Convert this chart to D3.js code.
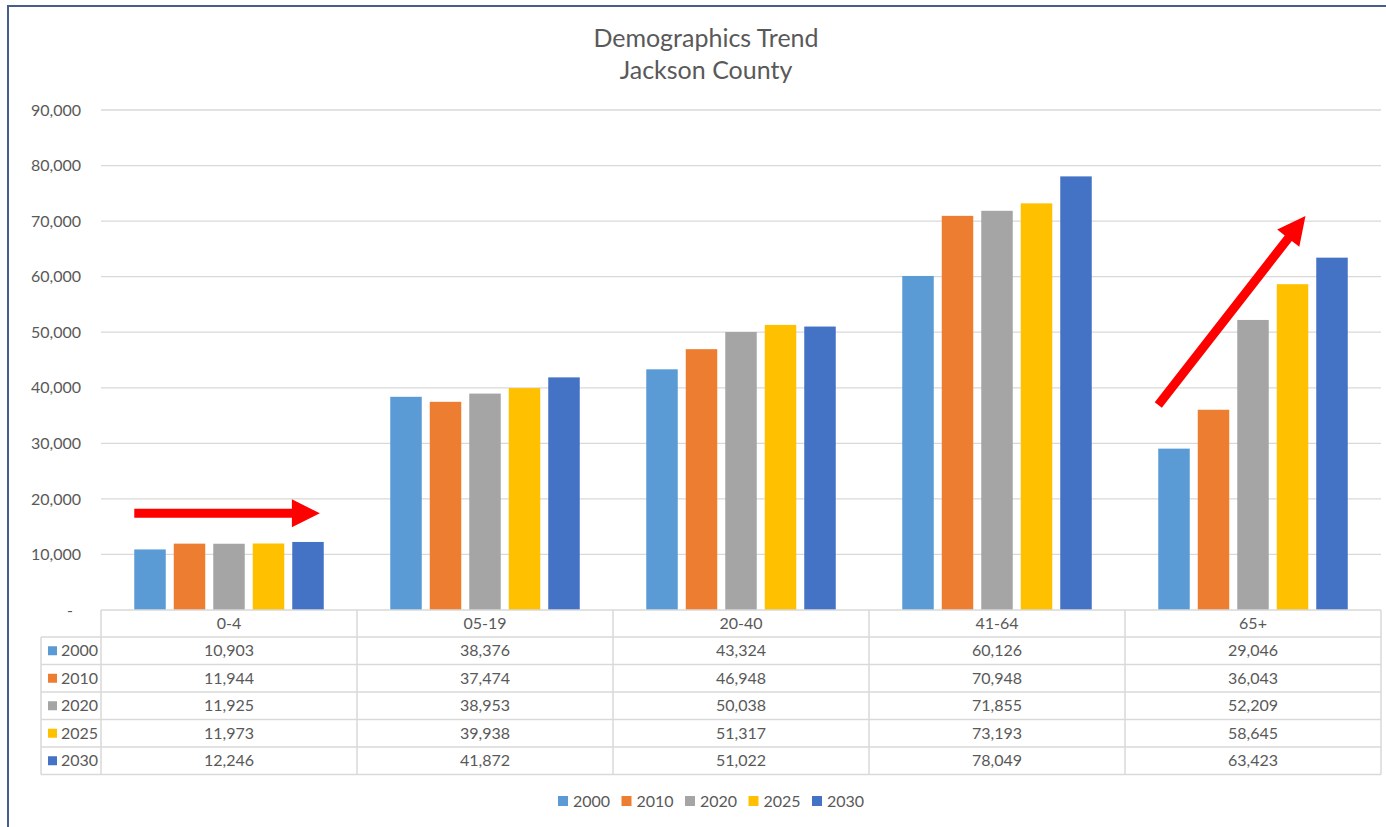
<!DOCTYPE html>
<html>
<head>
<meta charset="utf-8">
<script src="https://cdn.jsdelivr.net/npm/d3@7"></script>
<style>
  body { margin: 0; background: #fff; }
  svg { display: block; font-family: Lato, "Open Sans", sans-serif; }
</style>
</head>
<body>
<svg id="chart" width="1386" height="827"></svg>
<script>
// data
var categories = ['0-4', '05-19', '20-40', '41-64', '65+'];
var years = ['2000', '2010', '2020', '2025', '2030'];
var v2000 = [10903, 38376, 43324, 60126, 29046];
var v2010 = [11944, 37474, 46948, 70948, 36043];
var v2020 = [11925, 38953, 50038, 71855, 52209];
var v2025 = [11973, 39938, 51317, 73193, 58645];
var v2030 = [12246, 41872, 51022, 78049, 63423];
var yTicks = [0, 10000, 20000, 30000, 40000, 50000, 60000, 70000, 80000, 90000];
var colors = ['#5b9bd5', '#ed7d31', '#a5a5a5', '#ffc000', '#4472c4'];

var series = years.map(function(y, i) {
  return { year: y, values: [v2000, v2010, v2020, v2025, v2030][i], color: colors[i] };
});

// arrows drawn over the chart, in (category, fraction of band, value) terms
var arrows = [
  { from: ['0-4', 0.13, 17400], to: ['0-4', 0.855, 17400] },
  { from: ['65+', 0.13, 36900], to: ['65+', 0.705, 70900] }
];

var svg = d3.select('#chart');
var margin = { left: 101, right: 1381, top: 110, bottom: 610 };
var textColor = '#595959', gridColor = '#d9d9d9', fs = '16px';

var x = d3.scaleBand().domain(categories).range([margin.left, margin.right]);
var y = d3.scaleLinear().domain([0, 90000]).range([margin.bottom, margin.top]);

// frame
svg.append('line').attr('x1', 7).attr('x2', 1386).attr('y1', 6).attr('y2', 6)
  .attr('stroke', '#475d8a').attr('stroke-width', 2);
svg.append('line').attr('x1', 8).attr('x2', 8).attr('y1', 5).attr('y2', 827)
  .attr('stroke', '#475d8a').attr('stroke-width', 2);

// title
var title = svg.append('text').attr('x', 706).attr('text-anchor', 'middle')
  .attr('fill', textColor).style('font-size', '25px');
title.append('tspan').attr('x', 706).attr('y', 47).text('Demographics Trend');
title.append('tspan').attr('x', 706).attr('y', 79).text('Jackson County');

// gridlines
svg.append('g').selectAll('line').data(yTicks.slice(1)).join('line')
  .attr('x1', margin.left).attr('x2', margin.right)
  .attr('y1', function(d) { return y(d); }).attr('y2', function(d) { return y(d); })
  .attr('stroke', gridColor).attr('stroke-width', 1.3);

// y axis
var yAxis = d3.axisLeft(y).tickValues(yTicks).tickSize(0).tickPadding(0)
  .tickFormat(function(d) { return d === 0 ? '-' : d3.format(',')(d); });
var ga = svg.append('g').attr('transform', 'translate(81,0)').call(yAxis);
ga.select('.domain').remove();
ga.selectAll('text').attr('fill', textColor).style('font-size', fs)
  .style('font-family', 'Lato, sans-serif')
  .attr('dx', function(d) { return d === 0 ? -8 : 0; });

// bars
var barW = 31.5, barStep = 39.5;
var groupW = barStep * (years.length - 1) + barW;
var offset = (x.bandwidth() - groupW) / 2;
series.forEach(function(s, si) {
  svg.append('g').selectAll('rect').data(s.values).join('rect')
    .attr('x', function(d, i) { return x(categories[i]) + offset + si * barStep; })
    .attr('width', barW)
    .attr('y', function(d) { return y(d); })
    .attr('height', function(d) { return y(0) - y(d); })
    .attr('fill', s.color);
});

// data table
var rowH = 27.5, headH = 27, tableLeft = 41;
var tTop = margin.bottom, tBody = tTop + headH, tBottom = tBody + rowH * years.length;
var tg = svg.append('g').attr('stroke', gridColor).attr('stroke-width', 1.5);
tg.append('line').attr('x1', margin.left).attr('x2', margin.right).attr('y1', tTop).attr('y2', tTop);
d3.range(years.length + 1).forEach(function(r) {
  var yy = tBody + r * rowH;
  tg.append('line').attr('x1', tableLeft).attr('x2', margin.right).attr('y1', yy).attr('y2', yy);
});
tg.append('line').attr('x1', tableLeft).attr('x2', tableLeft).attr('y1', tBody).attr('y2', tBottom);
categories.concat([null]).forEach(function(c) {
  var xx = c === null ? margin.right : x(c);
  tg.append('line').attr('x1', xx).attr('x2', xx).attr('y1', tTop).attr('y2', tBottom);
});

svg.append('g').selectAll('text').data(categories).join('text')
  .attr('x', function(d) { return x(d) + x.bandwidth() / 2; })
  .attr('y', tTop + headH / 2).attr('dy', '0.35em')
  .attr('text-anchor', 'middle').attr('fill', textColor).style('font-size', fs)
  .text(function(d) { return d; });

series.forEach(function(s, si) {
  var cy = tBody + si * rowH + rowH / 2;
  var row = svg.append('g');
  row.append('rect').attr('x', 48).attr('y', cy - 4.5).attr('width', 9).attr('height', 9).attr('fill', s.color);
  row.append('text').attr('x', 61).attr('y', cy).attr('dy', '0.35em')
    .attr('fill', textColor).style('font-size', fs).text(s.year);
  row.selectAll('text.v').data(s.values).join('text').attr('class', 'v')
    .attr('x', function(d, i) { return x(categories[i]) + x.bandwidth() / 2; })
    .attr('y', cy).attr('dy', '0.35em')
    .attr('text-anchor', 'middle').attr('fill', textColor).style('font-size', fs)
    .text(function(d) { return d3.format(',')(d); });
});

// legend
var legend = svg.append('g').attr('transform', 'translate(558,801)');
series.forEach(function(s, si) {
  var item = legend.append('g').attr('transform', 'translate(' + (si * 63.5) + ',0)');
  item.append('rect').attr('x', 0).attr('y', -5).attr('width', 10).attr('height', 10).attr('fill', s.color);
  item.append('text').attr('x', 15).attr('dy', '0.35em').attr('fill', textColor)
    .style('font-size', fs).text(s.year);
});

// red arrows
function arrowPoints(p0, p1, shaft, headW, headL) {
  var dx = p1[0] - p0[0], dy = p1[1] - p0[1];
  var len = Math.sqrt(dx * dx + dy * dy);
  var ux = dx / len, uy = dy / len, nx = -uy, ny = ux;
  var bx = p1[0] - ux * headL, by = p1[1] - uy * headL;
  var s = shaft / 2, h = headW / 2;
  return [
    [p0[0] + nx * s, p0[1] + ny * s], [bx + nx * s, by + ny * s], [bx + nx * h, by + ny * h],
    p1,
    [bx - nx * h, by - ny * h], [bx - nx * s, by - ny * s], [p0[0] - nx * s, p0[1] - ny * s]
  ];
}
function pt(a) { return [x(a[0]) + a[1] * x.bandwidth(), y(a[2])]; }
svg.append('g').selectAll('polygon').data(arrows).join('polygon')
  .attr('points', function(d) {
    return arrowPoints(pt(d.from), pt(d.to), 9, 28, 28).map(function(p) { return p.join(','); }).join(' ');
  })
  .attr('fill', '#ff0000');
</script>
</body>
</html>
